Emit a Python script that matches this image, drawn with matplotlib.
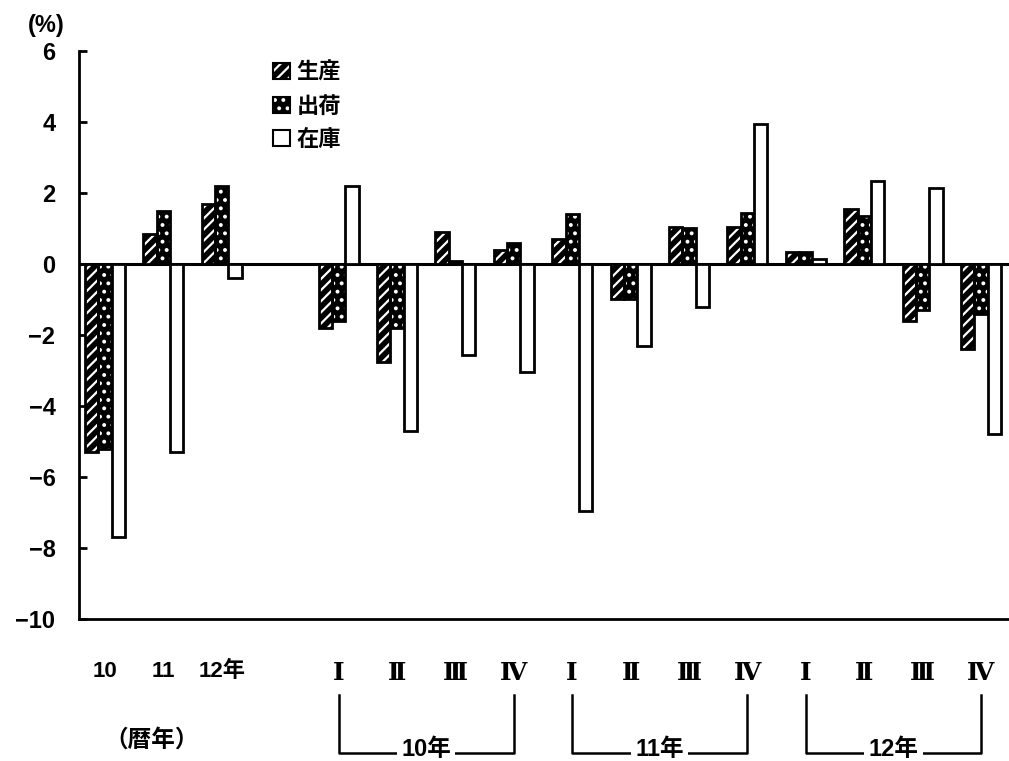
import matplotlib
matplotlib.use('Agg')
import matplotlib.pyplot as plt
import matplotlib.transforms as mtransforms
from matplotlib.patches import Patch
import numpy as np

plt.rcParams['font.family'] = ['Liberation Sans', 'Noto Sans CJK JP']
plt.rcParams['font.weight'] = 'bold'
plt.rcParams['hatch.linewidth'] = 1.6

# categories: 3 calendar years, then quarters of 10/11/12
labels = ['10', '11', '12年',
          'Ⅰ', 'Ⅱ', 'Ⅲ', 'Ⅳ',
          'Ⅰ', 'Ⅱ', 'Ⅲ', 'Ⅳ',
          'Ⅰ', 'Ⅱ', 'Ⅲ', 'Ⅳ']
years = ['10年', '11年', '12年']
series = ['生産', '出荷', '在庫']

seisan = [-5.3, 0.85, 1.7, -1.8, -2.75, 0.9, 0.4, 0.7, -1.0, 1.05, 1.05, 0.35, 1.55, -1.6, -2.4]
shukka = [-5.2, 1.5, 2.2, -1.6, -1.8, 0.08, 0.6, 1.4, -1.0, 1.0, 1.45, 0.35, 1.35, -1.3, -1.4]
zaiko = [-7.7, -5.3, -0.4, 2.2, -4.7, -2.55, -3.05, -6.95, -2.3, -1.2, 3.95, 0.15, 2.35, 2.15, -4.8]

# one empty slot between the annual and the quarterly part
x = np.r_[0:3, 4:16].astype(float)
w = 0.228

fig = plt.figure(figsize=(10.09, 7.61), dpi=100)
ax = fig.add_axes([0.0783, 0.1866, 0.9217, 0.7464])

ax.axhline(0, color='black', lw=2.2, zorder=1)

# 生産: white stripes on black
ax.bar(x - w, seisan, w, color='black', edgecolor='white', hatch='///', lw=0, zorder=2)
ax.bar(x - w, seisan, w, fill=False, edgecolor='black', lw=2, zorder=3)
# 出荷: white dots on black
ax.bar(x, shukka, w, color='black', edgecolor='white', hatch='..', lw=0, zorder=2)
ax.bar(x, shukka, w, fill=False, edgecolor='black', lw=2, zorder=3)
# 在庫: open bars
ax.bar(x + w, zaiko, w, color='white', edgecolor='black', lw=2, zorder=3)

ax.set_xlim(-0.445, 15.48)
ax.set_ylim(-10, 6)
ax.spines['top'].set_visible(False)
ax.spines['right'].set_visible(False)
ax.spines['left'].set_linewidth(2)
ax.spines['bottom'].set_linewidth(2)

ax.set_yticks(range(-10, 7, 2))
ax.tick_params(axis='y', direction='in', length=6, width=2, labelsize=17, pad=17)

ax.set_xticks(x, labels)
ax.tick_params(axis='x', length=0, pad=30, labelsize=16)
for t in ax.get_xticklabels()[3:]:
    t.set_family(['DejaVu Serif', 'Noto Sans CJK JP'])
    t.set_fontsize(18)

fig.text(0.046, 0.967, '(%)', ha='center', va='center', fontsize=17)

trans = mtransforms.blended_transform_factory(ax.transData, ax.transAxes)
ax.text(0.8, -0.213, '（暦年）', transform=trans, ha='center', va='center', fontsize=17)

# brackets under each year's quarters
for i, yr in enumerate(years):
    x0 = x[3 + 4 * i]
    x1 = x[6 + 4 * i]
    ax.plot([x0, x0, x1, x1], [-0.134, -0.236, -0.236, -0.134], color='black',
            lw=1.8, transform=trans, clip_on=False)
    ax.text((x0 + x1) / 2, -0.229, yr, transform=trans, ha='center', va='center',
            fontsize=17, bbox=dict(facecolor='white', edgecolor='none', pad=3))

handles = [
    (Patch(facecolor='black', edgecolor='white', hatch='///', lw=0),
     Patch(fill=False, edgecolor='black', lw=1.5)),
    (Patch(facecolor='black', edgecolor='white', hatch='..', lw=0),
     Patch(fill=False, edgecolor='black', lw=1.5)),
    Patch(facecolor='white', edgecolor='black', lw=1.5),
]
ax.legend(handles, series, loc='upper left', bbox_to_anchor=(0.209, 0.979),
          frameon=False, fontsize=16, handlelength=0.75, handleheight=0.75,
          handletextpad=0.3, labelspacing=0.56, borderpad=0, borderaxespad=0)

fig.savefig('out.png', dpi=100)
